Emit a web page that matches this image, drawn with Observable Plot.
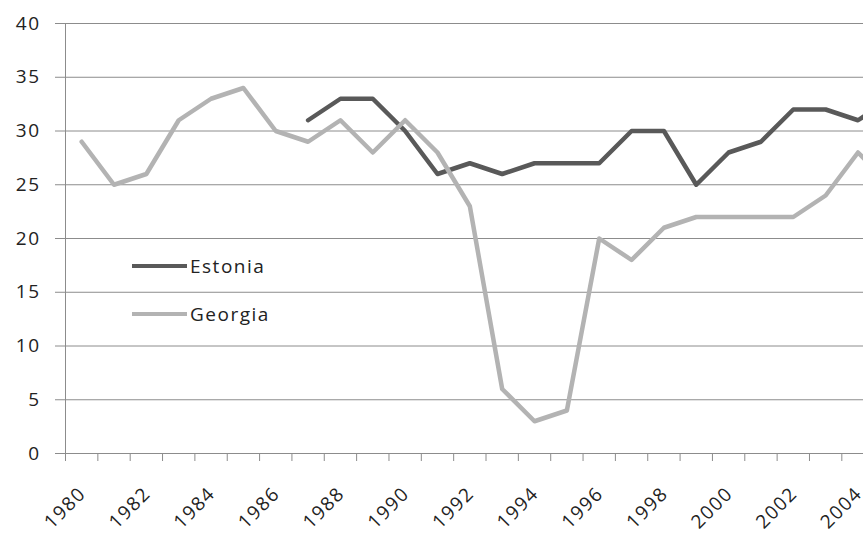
<!DOCTYPE html>
<html>
<head>
<meta charset="utf-8">
<script src="https://cdn.jsdelivr.net/npm/d3@7"></script>
<script src="https://cdn.jsdelivr.net/npm/@observablehq/plot@0.6"></script>
<style>
  html, body { margin: 0; padding: 0; background: #fff; }
  #chart { position: relative; width: 863px; height: 535px; overflow: hidden; font-family: "Open Sans", sans-serif; }
  #chart svg { display: block; }
  #chart svg text { letter-spacing: 1.5px; }
  .legend { position: absolute; left: 132px; font-size: 19px; letter-spacing: 1.5px; color: #222; }
  .legend .item { position: absolute; left: 0; display: flex; align-items: center; white-space: nowrap; }
  .legend .sw { width: 55px; height: 4px; margin-right: 3px; }
</style>
</head>
<body>
<div id="chart"></div>
<script>
const years = d3.range(1980, 2006);
const estoniaYears = d3.range(1987, 2006);
const estoniaValues = [31, 33, 33, 30, 26, 27, 26, 27, 27, 27, 30, 30, 25, 28, 29, 32, 32, 31, 33];
const georgiaValues = [29, 25, 26, 31, 33, 34, 30, 29, 31, 28, 31, 28, 23, 6, 3, 4, 20, 18, 21, 22, 22, 22, 22, 24, 28, 25];
const yTicks = [0, 5, 10, 15, 20, 25, 30, 35, 40];
const xLabels = d3.range(1980, 2005, 2);
const seriesNames = ["Estonia", "Georgia"];
const seriesColors = ["#595959", "#b3b3b3"];

const estonia = estoniaYears.map((y, i) => ({year: y, value: estoniaValues[i]}));
const georgia = years.map((y, i) => ({year: y, value: georgiaValues[i]}));
const boundaries = d3.range(1979.5, 2005, 1);

const plot = Plot.plot({
  width: 863,
  height: 535,
  marginTop: 23,
  marginBottom: 82,
  marginLeft: 65,
  marginRight: 0,
  style: {fontFamily: "'Open Sans', sans-serif", fontSize: "19px", color: "#222", background: "#fff", overflow: "visible"},
  x: {domain: [1979.5, 2004.17]},
  y: {domain: [0, 40]},
  marks: [
    Plot.gridY(yTicks, {stroke: "#8c8c8c", strokeOpacity: 1, strokeWidth: 1}),
    Plot.axisY(yTicks, {tickSize: 10, tickPadding: 15, stroke: "#8c8c8c", label: null, fill: "#222"}),
    Plot.ruleX([1979.5], {stroke: "#8c8c8c"}),
    Plot.axisX(boundaries, {tickSize: 8, tickFormat: () => "", stroke: "#8c8c8c", label: null}),
    Plot.axisX(xLabels, {tickSize: 0, tickPadding: 37, tickRotate: -45, dx: 1, tickFormat: d => String(d), label: null, fill: "#222"}),
    Plot.ruleY([0], {stroke: "#8c8c8c"}),
    Plot.line(estonia, {x: "year", y: "value", stroke: seriesColors[0], strokeWidth: 4.5, strokeLinejoin: "round", clip: true}),
    Plot.line(georgia, {x: "year", y: "value", stroke: seriesColors[1], strokeWidth: 4.5, strokeLinejoin: "round", clip: true})
  ]
});

const chart = document.getElementById("chart");
chart.appendChild(plot);

const legend = document.createElement("div");
legend.className = "legend";
legend.style.top = "0px";
const legendTops = [253, 301];
seriesNames.forEach((name, i) => {
  const item = document.createElement("div");
  item.className = "item";
  item.style.top = legendTops[i] + "px";
  const sw = document.createElement("span");
  sw.className = "sw";
  sw.style.background = seriesColors[i];
  const label = document.createElement("span");
  label.textContent = name;
  item.appendChild(sw);
  item.appendChild(label);
  legend.appendChild(item);
});
chart.appendChild(legend);
</script>
</body>
</html>
